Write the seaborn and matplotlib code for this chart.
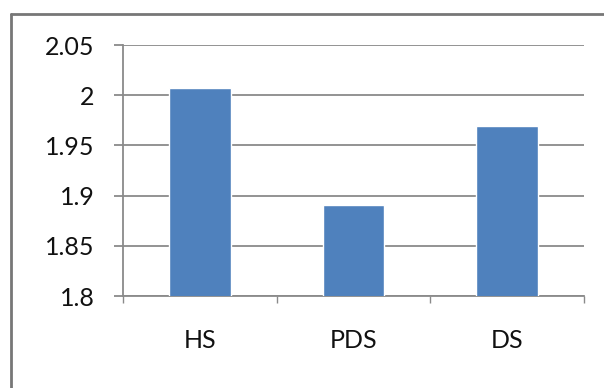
import pandas as pd
import matplotlib.pyplot as plt
import seaborn as sns
from matplotlib.lines import Line2D

# values
categories = ["HS", "PDS", "DS"]
values = [2.007, 1.891, 1.969]
y_ticks = [1.8, 1.85, 1.9, 1.95, 2.0, 2.05]
y_labels = ["1.8", "1.85", "1.9", "1.95", "2", "2.05"]

sns.set_style("white")
plt.rcParams["font.family"] = ["Lato", "DejaVu Sans"]

grid_col = "#8a8a8a"
df = pd.DataFrame({"cat": categories, "val": values})

fig = plt.figure(figsize=(6.04, 3.88), dpi=100)
ax = fig.add_axes([0.2036, 0.237, 0.7634, 0.647])

sns.barplot(data=df, x="cat", y="val", color="#4F81BD", saturation=1,
            width=0.4, ax=ax, zorder=3)

ax.set_ylim(1.8, 2.05)
ax.set_xlim(-0.5, 2.5)
ax.set_yticks(y_ticks)
ax.set_yticklabels(y_labels)
ax.set_xlabel("")
ax.set_ylabel("")

ax.yaxis.grid(True, color=grid_col, linewidth=1.3, zorder=0)
ax.set_axisbelow(True)

for s in ["top", "right"]:
    ax.spines[s].set_visible(False)
for s in ["left", "bottom"]:
    ax.spines[s].set_color(grid_col)
    ax.spines[s].set_linewidth(1.3)

ax.tick_params(axis="y", length=6.5, width=1.3, color=grid_col, pad=14,
               labelsize=18, labelcolor="#111111", left=True)
ax.set_xticks([-0.5, 0.5, 1.5, 2.5], minor=True)
ax.tick_params(axis="x", which="minor", length=5, width=1, color=grid_col,
               bottom=True, direction="out")
ax.tick_params(axis="x", which="major", length=0, pad=24, labelsize=18,
               labelcolor="#111111")

# outer chart frame (top and left edges visible)
fig.add_artist(Line2D([0.019, 1.0], [0.964, 0.964], transform=fig.transFigure,
                      color="#777777", linewidth=2))
fig.add_artist(Line2D([0.019, 0.019], [0.0, 0.964], transform=fig.transFigure,
                      color="#777777", linewidth=2))

fig.savefig("out.png", dpi=100)
